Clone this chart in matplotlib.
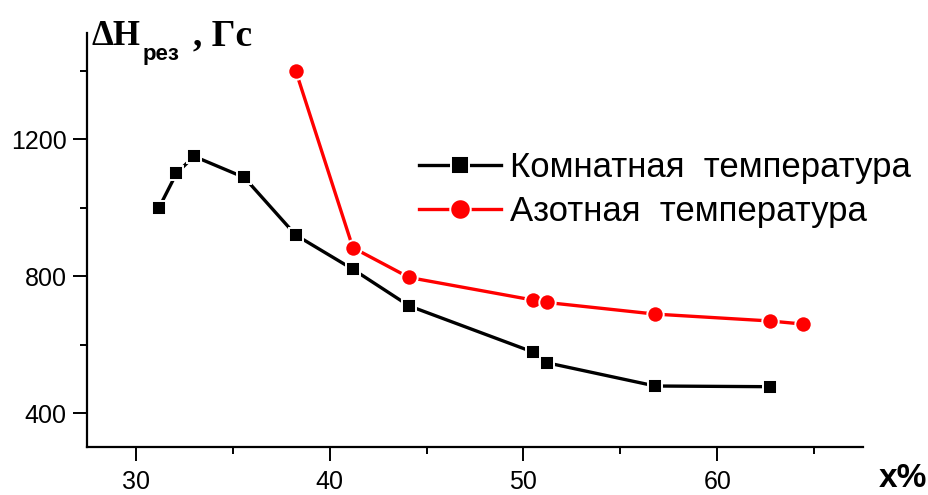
import matplotlib
matplotlib.use('Agg')
import matplotlib.pyplot as plt
from matplotlib.ticker import MultipleLocator

# x, %  /  dH_res, Gs
x_room = [31.2, 32.1, 33.0, 35.6, 38.25, 41.2, 44.1, 50.5, 51.2, 56.8, 62.7]
dh_room = [1000, 1100, 1150, 1088, 920, 820, 713, 578, 547, 479, 477]

x_nitro = [38.25, 41.2, 44.1, 50.5, 51.2, 56.8, 62.7, 64.4]
dh_nitro = [1400, 883, 796, 730, 723, 689, 669, 660]

label_room = 'Комнатная  температура'
label_nitro = 'Азотная  температура'

W, H = 929, 495
plt.rcParams['font.family'] = ['Liberation Sans', 'DejaVu Sans']

fig = plt.figure(figsize=(W / 100, H / 100), dpi=100)
ax = fig.add_axes([87.3 / W, 47.7 / H, (862.7 - 87.3) / W, (462 - 47.7) / H])

ax.plot(x_room, dh_room, color='black', lw=2.4, marker='s', ms=10.5,
        mfc='black', mec='white', mew=1.4, label=label_room, zorder=3)
ax.plot(x_nitro, dh_nitro, color='red', lw=2.4, marker='o', ms=11.8,
        mfc='red', mec='white', mew=1.4, label=label_nitro, zorder=3)

ax.set_xlim(27.5, 67.5)
ax.set_ylim(300, 1510)
ax.xaxis.set_major_locator(MultipleLocator(10))
ax.xaxis.set_minor_locator(MultipleLocator(5))
ax.yaxis.set_major_locator(MultipleLocator(400))
ax.yaxis.set_minor_locator(MultipleLocator(200))

for s in ['top', 'right']:
    ax.spines[s].set_visible(False)
for s in ['left', 'bottom']:
    ax.spines[s].set_linewidth(1.6)

ax.tick_params(which='major', length=10, width=1.4, labelsize=18, pad=6)
ax.tick_params(which='minor', length=5, width=1.4)
ax.tick_params(axis='y', which='major', pad=5)

leg = ax.legend(loc='upper left', bbox_to_anchor=(419 / W, 1 - 151 / H),
                bbox_transform=fig.transFigure, frameon=False, fontsize=25,
                handlelength=2.36, handletextpad=0.26, labelspacing=0.32,
                borderpad=0, borderaxespad=0, markerscale=1.25)

# axis titles
fig.text(92 / W, 1 - 45 / H, 'ΔH', family='Liberation Serif', weight='bold',
         fontsize=25, ha='left', va='baseline')
fig.text(143 / W, 1 - 60 / H, 'рез', weight='bold', fontsize=16,
         ha='left', va='baseline')
fig.text(193 / W, 1 - 45 / H, ', Гс', family='Liberation Serif', weight='bold',
         fontsize=27, ha='left', va='baseline')
fig.text(879 / W, 1 / H, 'x%', weight='bold', fontsize=24,
         ha='left', va='bottom')

fig.savefig('out.png', dpi=100)
